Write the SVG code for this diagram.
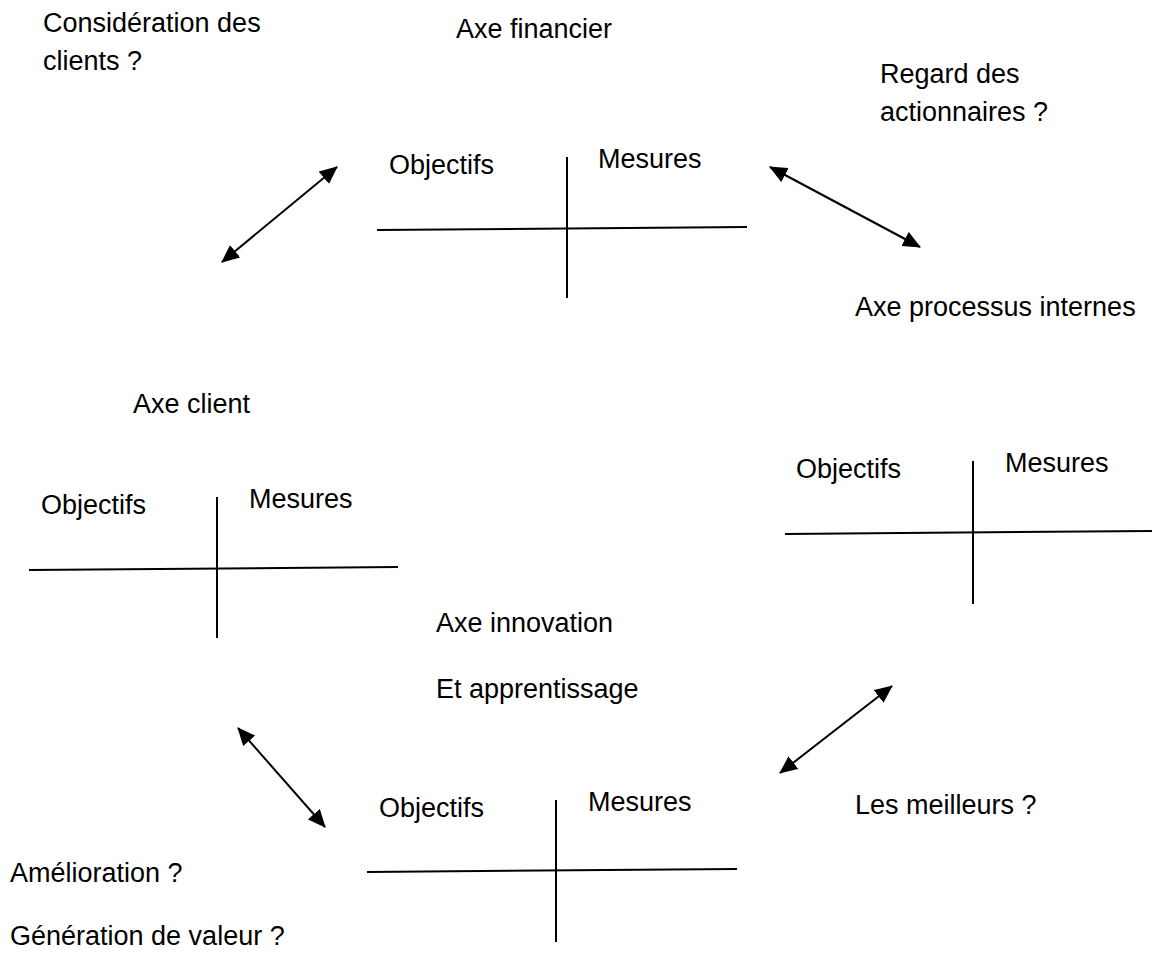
<svg xmlns="http://www.w3.org/2000/svg" width="1153" height="954" viewBox="0 0 1153 954">
<style>
text{font-family:"Liberation Sans",Arial,sans-serif;font-size:27px;fill:#000}
.ln{stroke:#000;stroke-width:2;fill:none}
.ar{stroke:#000;stroke-width:2;fill:none;marker-start:url(#ah);marker-end:url(#ah)}
</style>
<defs>
<marker id="ah" markerUnits="userSpaceOnUse" markerWidth="18" markerHeight="16" refX="17" refY="8" orient="auto-start-reverse">
<path d="M0,0 L18,8 L0,16 z" fill="#000"/>
</marker>
</defs>
<rect width="1153" height="954" fill="#fff"/>
<g id="labels">
<text x="43" y="32">Considération des</text>
<text x="43" y="70">clients ?</text>
<text x="456" y="38">Axe financier</text>
<text x="880" y="83">Regard des</text>
<text x="880" y="121">actionnaires ?</text>
<text x="855" y="316">Axe processus internes</text>
<text x="133" y="413">Axe client</text>
<text x="436" y="632">Axe innovation</text>
<text x="436" y="698">Et apprentissage</text>
<text x="855" y="814">Les meilleurs ?</text>
<text x="10" y="882">Amélioration ?</text>
<text x="10" y="945">Génération de valeur ?</text>
</g>
<g id="axe-financier">
<text x="389" y="174">Objectifs</text>
<text x="598" y="168">Mesures</text>
<line class="ln" x1="567" y1="157" x2="567" y2="298"/>
<line class="ln" x1="377" y1="230" x2="747" y2="227"/>
</g>
<g id="axe-client">
<text x="41" y="514">Objectifs</text>
<text x="249" y="508">Mesures</text>
<line class="ln" x1="217" y1="497" x2="217" y2="638"/>
<line class="ln" x1="29" y1="570" x2="398" y2="567"/>
</g>
<g id="axe-processus">
<text x="796" y="478">Objectifs</text>
<text x="1005" y="472">Mesures</text>
<line class="ln" x1="973" y1="461" x2="973" y2="604"/>
<line class="ln" x1="785" y1="534" x2="1152" y2="531"/>
</g>
<g id="axe-innovation">
<text x="379" y="817">Objectifs</text>
<text x="588" y="811">Mesures</text>
<line class="ln" x1="556" y1="800" x2="556" y2="942"/>
<line class="ln" x1="367" y1="872" x2="737" y2="869"/>
</g>
<g id="connectors">
<line class="ar" x1="222" y1="262" x2="337" y2="167"/>
<line class="ar" x1="770" y1="167" x2="920" y2="247"/>
<line class="ar" x1="238" y1="728" x2="325" y2="827"/>
<line class="ar" x1="892" y1="686" x2="780" y2="773"/>
</g>
</svg>
